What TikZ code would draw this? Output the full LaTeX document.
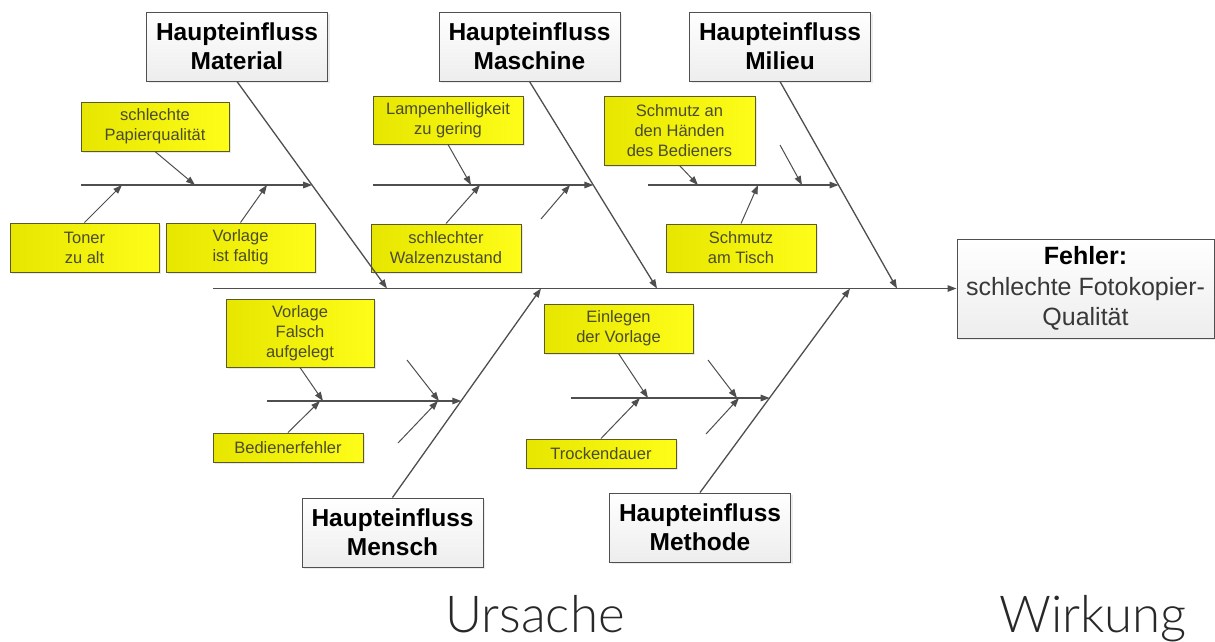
\documentclass[tikz,border=0pt]{standalone}
\usepackage{fontspec}
\setmainfont{Liberation Sans}
\newfontfamily\lightfont{Lato Light}
\usetikzlibrary{arrows.meta,shadows}

\definecolor{linegray}{RGB}{78,78,78}
\definecolor{causeedge}{RGB}{90,90,40}
\definecolor{causetext}{RGB}{75,75,45}
\definecolor{causeleft}{RGB}{230,230,0}
\definecolor{causeright}{RGB}{253,253,25}
\definecolor{mainedge}{RGB}{80,80,80}
\definecolor{labelgray}{RGB}{40,40,40}

\begin{document}
\begin{tikzpicture}[x=1pt,y=-1pt,
  tip/.style={-{Triangle[length=9pt,width=6.5pt]}},
  bone/.style={draw=linegray,line width=1.3pt,tip},
  twig/.style={draw=linegray,line width=1pt,tip},
  cause/.style={draw=causeedge,line width=1pt,left color=causeleft,right color=causeright,
    text=causetext,font=\fontsize{16.5}{20}\selectfont,align=center,inner sep=0pt,
    drop shadow={opacity=0.18,shadow xshift=2pt,shadow yshift=-2pt}},
  category/.style={draw=mainedge,line width=1pt,top color=white,bottom color=black!7,
    font=\fontsize{24.5}{29}\selectfont\bfseries,align=center,inner sep=0pt,
    minimum width=181pt,minimum height=69pt,
    drop shadow={opacity=0.15,shadow xshift=2pt,shadow yshift=-2pt}},
  bigword/.style={font=\lightfont\fontsize{51}{55}\selectfont,text=labelgray,anchor=base,inner sep=0pt}
]
\useasboundingbox (0,0) rectangle (1215,641);

% main categories
\node[category] (material) at (237,46.5)  {Haupteinfluss\\Material};
\node[category] (maschine) at (529.5,46.5) {Haupteinfluss\\Maschine};
\node[category] (milieu)   at (780,46.5)  {Haupteinfluss\\Milieu};
\node[category] (mensch)   at (392.5,532.5) {Haupteinfluss\\Mensch};
\node[category] (methode)  at (700,527.5) {Haupteinfluss\\Methode};

% effect
\node[draw=mainedge,line width=1pt,top color=white,bottom color=black!7,
      minimum width=257pt,minimum height=99pt,inner sep=0pt,align=center,
      font=\fontsize{25}{30.5}\selectfont,
      drop shadow={opacity=0.15,shadow xshift=2pt,shadow yshift=-2pt}]
      (fehler) at (1085.5,288.5)
      {\textbf{Fehler:}\\\textcolor{black!78}{schlechte Fotokopier-}\\\textcolor{black!78}{Qualität}};

% individual causes
\node[cause,minimum width=148pt,minimum height=49pt] (papier)   at (155,126.5)  {schlechte\\Papierqualität};
\node[cause,minimum width=149pt,minimum height=49pt] (toner)    at (84.5,247.5) {Toner\\zu alt};
\node[cause,minimum width=149pt,minimum height=49pt] (faltig)   at (240.5,247.5) {Vorlage\\ist faltig};
\node[cause,minimum width=150pt,minimum height=48pt] (lampe)    at (448,120)    {Lampenhelligkeit\\zu gering};
\node[cause,minimum width=150pt,minimum height=48pt] (walze)    at (446,248)    {schlechter\\Walzenzustand};
\node[cause,minimum width=151pt,minimum height=69pt] (haende)   at (679.5,130.5) {Schmutz an\\den Händen\\des Bedieners};
\node[cause,minimum width=150pt,minimum height=48pt] (tisch)    at (741,248)    {Schmutz\\am Tisch};
\node[cause,minimum width=148pt,minimum height=68pt] (falsch)   at (300,333)    {Vorlage\\Falsch\\aufgelegt};
\node[cause,minimum width=150pt,minimum height=29pt] (bediener) at (288,447.5)  {Bedienerfehler};
\node[cause,minimum width=149pt,minimum height=49pt] (einlegen) at (618.5,328.5) {Einlegen\\der Vorlage};
\node[cause,minimum width=150pt,minimum height=29pt] (trocken)  at (601,453.5)  {Trockendauer};

% spine
\coordinate (spine) at (213,288.5);
\draw[bone] (spine) -- (fehler.west);

% main bones, ending on the spine
\coordinate (matT) at (387,288.5);
\coordinate (masT) at (657,288.5);
\coordinate (milT) at (897,288.5);
\coordinate (menT) at (541,288.5);
\coordinate (metT) at (850,288.5);
\draw[bone] (material.south) -- (matT);
\draw[bone] (maschine.south) -- (masT);
\draw[bone] (milieu.south) -- (milT);
\draw[bone] (mensch.north) -- (menT);
\draw[bone] (methode.north) -- (metT);

% side branches, ending on the main bones
\coordinate (matA) at (81,185);    \coordinate (matB) at (312.2,185);
\coordinate (masA) at (373,185);   \coordinate (masB) at (593.4,185);
\coordinate (milA) at (648,185);   \coordinate (milB) at (838.6,185);
\coordinate (menA) at (267,401);   \coordinate (menB) at (461.3,401);
\coordinate (metA) at (571,398);   \coordinate (metB) at (769.7,398);
\draw[bone] (matA) -- (matB);
\draw[bone] (masA) -- (masB);
\draw[bone] (milA) -- (milB);
\draw[bone] (menA) -- (menB);
\draw[bone] (metA) -- (metB);

% causes pointing onto the branches
\coordinate (p1) at (195,185);  \draw[twig] (papier.south) -- (p1);
\coordinate (p2) at (122,185);  \draw[twig] (toner.north) -- (p2);
\coordinate (p3) at (267,185);  \draw[twig] (faltig.north) -- (p3);
\coordinate (p4) at (471,185);  \draw[twig] (lampe.south) -- (p4);
\coordinate (p5) at (480,185);  \draw[twig] (walze.north) -- (p5);
\coordinate (p6) at (698,185);  \draw[twig] (haende.south) -- (p6);
\coordinate (p7) at (758,185);  \draw[twig] (tisch.north) -- (p7);
\coordinate (p8) at (323,401);  \draw[twig] (falsch.south) -- (p8);
\coordinate (p9) at (320,401);  \draw[twig] (bediener.north) -- (p9);
\coordinate (p10) at (648,398); \draw[twig] (einlegen.south) -- (p10);
\coordinate (p11) at (640,398); \draw[twig] (trocken.north) -- (p11);

% empty twigs
\coordinate (e1s) at (541,219); \coordinate (e1t) at (570,185); \draw[twig] (e1s) -- (e1t);
\coordinate (e2s) at (780,145); \coordinate (e2t) at (802,185); \draw[twig] (e2s) -- (e2t);
\coordinate (e3s) at (407,360); \coordinate (e3t) at (439,401); \draw[twig] (e3s) -- (e3t);
\coordinate (e4s) at (398,443); \coordinate (e4t) at (438,401); \draw[twig] (e4s) -- (e4t);
\coordinate (e5s) at (708,360); \coordinate (e5t) at (737,398); \draw[twig] (e5s) -- (e5t);
\coordinate (e6s) at (706,434); \coordinate (e6t) at (739,398); \draw[twig] (e6s) -- (e6t);

% captions
\node[bigword] (ursache) at (535,632) {Ursache};
\node[bigword] (wirkung) at (1093,632) {Wirkung};
\end{tikzpicture}
\end{document}
